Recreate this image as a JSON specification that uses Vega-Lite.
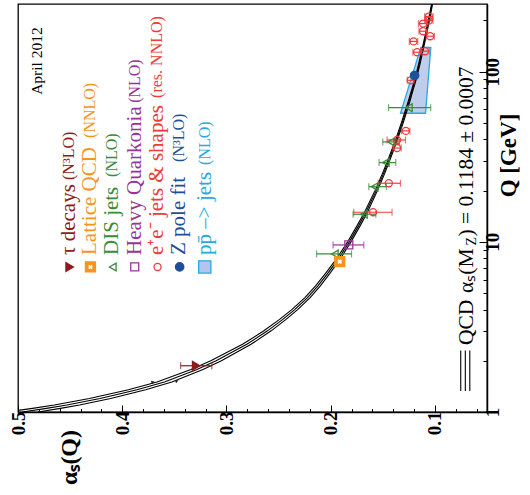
{
  "$schema": "https://vega.github.io/schema/vega-lite/v6.json",
  "width": 469,
  "height": 408,
  "autosize": {"type": "none"},
  "padding": {"left": 18, "top": 4, "right": 43, "bottom": 83},
  "background": "white",
  "view": {"stroke": "black", "strokeWidth": 1.3},
  "config": {"font": "Liberation Serif"},
  "datasets": {
    "qcd": [
      {"q": 1, "c": 0.4958, "u": 0.5108, "l": 0.4808},
      {"q": 1.05, "c": 0.4727, "u": 0.486, "l": 0.4593},
      {"q": 1.1, "c": 0.4531, "u": 0.4652, "l": 0.441},
      {"q": 1.2, "c": 0.4213, "u": 0.4315, "l": 0.4111},
      {"q": 1.35, "c": 0.3858, "u": 0.3941, "l": 0.3775},
      {"q": 1.5, "c": 0.3595, "u": 0.3666, "l": 0.3524},
      {"q": 1.777, "c": 0.3283, "u": 0.3341, "l": 0.3225},
      {"q": 2, "c": 0.3099, "u": 0.315, "l": 0.3048},
      {"q": 2.5, "c": 0.2805, "u": 0.2846, "l": 0.2764},
      {"q": 3, "c": 0.2606, "u": 0.2641, "l": 0.2571},
      {"q": 3.5, "c": 0.2459, "u": 0.249, "l": 0.2428},
      {"q": 4, "c": 0.2345, "u": 0.2373, "l": 0.2317},
      {"q": 4.7, "c": 0.2222, "u": 0.2247, "l": 0.2197},
      {"q": 5.5, "c": 0.2124, "u": 0.2147, "l": 0.2101},
      {"q": 6.5, "c": 0.203, "u": 0.2051, "l": 0.2009},
      {"q": 8, "c": 0.1923, "u": 0.1941, "l": 0.1905},
      {"q": 10, "c": 0.1821, "u": 0.1837, "l": 0.1805},
      {"q": 12.5, "c": 0.173, "u": 0.1745, "l": 0.1715},
      {"q": 15, "c": 0.166, "u": 0.1674, "l": 0.1646},
      {"q": 20, "c": 0.1563, "u": 0.1575, "l": 0.1551},
      {"q": 25, "c": 0.1495, "u": 0.1506, "l": 0.1484},
      {"q": 30, "c": 0.1443, "u": 0.1453, "l": 0.1433},
      {"q": 40, "c": 0.1367, "u": 0.1376, "l": 0.1358},
      {"q": 50, "c": 0.1313, "u": 0.1322, "l": 0.1304},
      {"q": 65, "c": 0.1254, "u": 0.1262, "l": 0.1246},
      {"q": 80, "c": 0.1211, "u": 0.1218, "l": 0.1204},
      {"q": 91.19, "c": 0.1184, "u": 0.1191, "l": 0.1177},
      {"q": 110, "c": 0.1151, "u": 0.1158, "l": 0.1144},
      {"q": 130, "c": 0.1124, "u": 0.113, "l": 0.1118},
      {"q": 160, "c": 0.1091, "u": 0.1097, "l": 0.1085},
      {"q": 200, "c": 0.1058, "u": 0.1064, "l": 0.1052},
      {"q": 250, "c": 0.1027, "u": 0.1032, "l": 0.1022}
    ],
    "pts": [
      {"series": "tau", "q": 1.87, "a": 0.329, "lo": 0.314, "hi": 0.344},
      {"series": "dis", "q": 8.49, "a": 0.196, "lo": 0.18, "hi": 0.2135},
      {"series": "dis", "q": 14.53, "a": 0.1682, "lo": 0.1567, "hi": 0.1785},
      {"series": "dis", "q": 21.11, "a": 0.1577, "lo": 0.1465, "hi": 0.1634},
      {"series": "dis", "q": 29.22, "a": 0.1471, "lo": 0.1375, "hi": 0.1536},
      {"series": "dis", "q": 38.67, "a": 0.142, "lo": 0.134, "hi": 0.15},
      {"series": "dis", "q": 61.5, "a": 0.125, "lo": 0.104, "hi": 0.1445},
      {"series": "hq", "q": 9.59, "a": 0.1826, "lo": 0.1682, "hi": 0.1977},
      {"series": "lat", "q": 7.65, "a": 0.1913, "lo": 0.1885, "hi": 0.1941},
      {"series": "ee", "q": 14.93, "a": 0.1593, "lo": 0.1411, "hi": 0.1778},
      {"series": "ee", "q": 22.11, "a": 0.1442, "lo": 0.133, "hi": 0.1545},
      {"series": "ee", "q": 35.6, "a": 0.1363, "lo": 0.1323, "hi": 0.1403},
      {"series": "ee", "q": 39.7, "a": 0.1363, "lo": 0.1282, "hi": 0.1459},
      {"series": "ee", "q": 44.9, "a": 0.1279, "lo": 0.124, "hi": 0.132},
      {"series": "ee", "q": 89, "a": 0.1232, "lo": 0.12, "hi": 0.1265},
      {"series": "ee", "q": 130.2, "a": 0.1171, "lo": 0.1131, "hi": 0.1211},
      {"series": "ee", "q": 132, "a": 0.1095, "lo": 0.1055, "hi": 0.1135},
      {"series": "ee", "q": 150.7, "a": 0.1205, "lo": 0.1165, "hi": 0.1245},
      {"series": "ee", "q": 161.7, "a": 0.1045, "lo": 0.1005, "hi": 0.1085},
      {"series": "ee", "q": 173, "a": 0.1113, "lo": 0.1073, "hi": 0.1153},
      {"series": "ee", "q": 191.8, "a": 0.1113, "lo": 0.1068, "hi": 0.1158},
      {"series": "ee", "q": 199.7, "a": 0.1058, "lo": 0.1018, "hi": 0.1098},
      {"series": "ee", "q": 210.9, "a": 0.1058, "lo": 0.1018, "hi": 0.1098},
      {"series": "z", "q": 95, "a": 0.1195, "lo": 0.1185, "hi": 0.1205}
    ],
    "ppband": [
      {"q": 57, "a1": 0.133, "a2": 0.109},
      {"q": 139, "a1": 0.1135, "a2": 0.1039}
    ],
    "arrows": [
      {"a": 0.3705, "q": 1.5},
      {"a": 0.3475, "q": 1.52}
    ],
    "legsym": [
      {"series": "tau", "a": 0.4504, "q": 7.12},
      {"series": "lat", "a": 0.4305, "q": 7.12},
      {"series": "dis", "a": 0.4091, "q": 7.12},
      {"series": "hq", "a": 0.388, "q": 7.12},
      {"series": "ee", "a": 0.3661, "q": 7.12},
      {"series": "z", "a": 0.3449, "q": 7.12},
      {"series": "pp", "a": 0.3208, "q": 7.12}
    ],
    "legmain": [
      {"series": "tau", "label": "τ decays", "a": 0.4513, "q": 8.375},
      {"series": "lat", "label": "Lattice QCD", "a": 0.4312, "q": 8.375},
      {"series": "dis", "label": "DIS jets", "a": 0.4101, "q": 8.375},
      {"series": "hq", "label": "Heavy Quarkonia", "a": 0.3875, "q": 8.375},
      {"series": "ee", "label": "e⁺e⁻ jets & shapes", "a": 0.3669, "q": 8.375},
      {"series": "z", "label": "Z pole fit", "a": 0.3453, "q": 8.375},
      {"series": "pp", "label": "pp̄ –> jets", "a": 0.3208, "q": 8.375}
    ],
    "legsuf": [
      {"series": "tau", "label": "(N³LO)", "a": 0.4513, "q": 23.11},
      {"series": "lat", "label": "(NNLO)", "a": 0.4312, "q": 40.81},
      {"series": "dis", "label": "(NLO)", "a": 0.4101, "q": 24.07},
      {"series": "hq", "label": "(NLO)", "a": 0.3875, "q": 65.6},
      {"series": "ee", "label": "(res. NNLO)", "a": 0.3669, "q": 70.16},
      {"series": "z", "label": "(N³LO)", "a": 0.3453, "q": 29.49},
      {"series": "pp", "label": "(NLO)", "a": 0.3208, "q": 28.32}
    ],
    "annbig": [
      {"label": "QCD", "a": 0.0695, "q": 2.476},
      {"label": "αₛ(M", "a": 0.0695, "q": 5.01},
      {"label": ") = 0.1184 ± 0.0007", "a": 0.0695, "q": 10.76}
    ],
    "annsmall": [
      {"label": "Z", "a": 0.0648, "q": 9.52}
    ],
    "date": [
      {"label": "April 2012", "a": 0.4821, "q": 73.1}
    ],
    "qleg": [
      {"a": 0.0752, "q1": 1.33, "q2": 2.3},
      {"a": 0.0708, "q1": 1.33, "q2": 2.3},
      {"a": 0.0665, "q1": 1.33, "q2": 2.3}
    ]
  },
  "layer": [
    {
      "data": {"name": "ppband"},
      "mark": {"type": "area", "orient": "horizontal", "fill": "#b4c4ea", "fillOpacity": 0.85, "stroke": "#27a9e1", "strokeWidth": 1.3},
      "encoding": {
        "y": {"field": "q", "type": "quantitative", "scale": {"type": "log", "domain": [1, 250], "nice": false}, "axis": null},
        "x": {"field": "a1", "type": "quantitative", "scale": {"domain": [0.05, 0.5], "reverse": true, "nice": false, "zero": false}, "axis": null},
        "x2": {"field": "a2"}
      }
    },
    {
      "data": {"name": "qcd"},
      "transform": [{"fold": ["c", "u", "l"], "as": ["band", "a"]}],
      "mark": {"type": "line", "color": "black", "strokeWidth": 1.1, "clip": true},
      "encoding": {
        "x": {"field": "a", "type": "quantitative", "scale": {"domain": [0.05, 0.5], "reverse": true, "nice": false, "zero": false},
          "axis": {"orient": "bottom", "values": [0.1, 0.2, 0.3, 0.4, 0.5], "format": ".1f", "labelAngle": 270, "labelAlign": "right", "labelBaseline": "middle", "labelFont": "Liberation Serif", "labelFontSize": 19, "labelFontWeight": "bold", "labelColor": "black", "labelPadding": 6, "labelFlush": false, "labelOverlap": false, "labelBound": false, "tickSize": -7, "tickColor": "black", "tickWidth": 1, "domainColor": "black", "domainWidth": 1.5, "grid": false, "title": "αₛ(Q)", "titleFont": "Liberation Serif", "titleFontSize": 24, "titleFontWeight": "bold", "titleColor": "black", "titleAngle": 270, "titleAlign": "center", "titleBaseline": "middle", "titleX": 51, "titleY": 45}},
        "y": {"field": "q", "type": "quantitative", "scale": {"type": "log", "domain": [1, 250], "nice": false},
          "axis": {"orient": "right", "values": [1, 10, 100], "format": "d", "labelAngle": 270, "labelAlign": "center", "labelBaseline": "top", "labelFont": "Liberation Serif", "labelFontSize": 19, "labelFontWeight": "bold", "labelColor": "black", "labelPadding": 4, "labelFlush": false, "labelOverlap": false, "labelBound": false, "tickSize": -8, "tickColor": "black", "tickWidth": 1, "domainColor": "black", "domainWidth": 1.5, "grid": false, "title": "Q [GeV]", "titleFont": "Liberation Serif", "titleFontSize": 23, "titleFontWeight": "bold", "titleColor": "black", "titleAngle": 270, "titleAlign": "center", "titleBaseline": "middle", "titleX": 21, "titleY": 151}},
        "detail": {"field": "band"},
        "order": {"field": "q", "type": "quantitative"}
      }
    },
    {
      "data": {"name": "arrows"},
      "mark": {"type": "point", "shape": "triangle-right", "filled": true, "color": "#222222", "opacity": 1, "size": 14, "angle": 340},
      "encoding": {
        "x": {"field": "a", "type": "quantitative", "axis": null},
        "y": {"field": "q", "type": "quantitative", "axis": null}
      }
    },
    {
      "data": {"name": "pts"},
      "mark": {"type": "rule", "strokeWidth": 1.2},
      "encoding": {
        "x": {"field": "lo", "type": "quantitative", "scale": {"domain": [0.05, 0.5], "reverse": true, "nice": false, "zero": false},
          "axis": {"orient": "bottom", "values": [0.06, 0.08, 0.12, 0.14, 0.16, 0.18, 0.22, 0.24, 0.26, 0.28, 0.32, 0.34, 0.36, 0.38, 0.42, 0.44, 0.46, 0.48], "labels": false, "domain": false, "tickSize": -3.5, "tickColor": "black", "tickWidth": 1, "grid": false, "title": null}},
        "x2": {"field": "hi"},
        "y": {"field": "q", "type": "quantitative", "scale": {"type": "log", "domain": [1, 250], "nice": false},
          "axis": {"orient": "right", "values": [2, 3, 4, 5, 6, 7, 8, 9, 20, 30, 40, 50, 60, 70, 80, 90, 200], "labels": false, "domain": false, "tickSize": -4, "tickColor": "black", "tickWidth": 1, "grid": false, "title": null}},
        "color": {"field": "series", "type": "nominal", "legend": null, "scale": {"domain": ["tau", "lat", "dis", "hq", "ee", "z", "pp"], "range": ["#8e1b1b", "#f7941d", "#3a8a3a", "#993399", "#ef3a3a", "#1f4e9a", "#27a9e1"]}}
      }
    },
    {
      "data": {"name": "pts"},
      "transform": [{"fold": ["lo", "hi"], "as": ["end", "v"]}],
      "mark": {"type": "tick", "orient": "vertical", "size": 7, "thickness": 1.2},
      "encoding": {
        "x": {"field": "v", "type": "quantitative", "axis": null},
        "y": {"field": "q", "type": "quantitative", "axis": null},
        "color": {"field": "series", "type": "nominal", "legend": null, "scale": {"domain": ["tau", "lat", "dis", "hq", "ee", "z", "pp"], "range": ["#8e1b1b", "#f7941d", "#3a8a3a", "#993399", "#ef3a3a", "#1f4e9a", "#27a9e1"]}}
      }
    },
    {
      "data": {"name": "pts"},
      "mark": {"type": "point", "opacity": 1, "strokeWidth": 1.3},
      "encoding": {
        "x": {"field": "a", "type": "quantitative", "axis": null},
        "y": {"field": "q", "type": "quantitative", "axis": null},
        "shape": {"field": "series", "type": "nominal", "legend": null, "scale": {"domain": ["tau", "lat", "dis", "hq", "ee", "z", "pp"], "range": ["triangle-right", "square", "triangle-left", "square", "circle", "circle", "square"]}},
        "stroke": {"field": "series", "type": "nominal", "legend": null, "scale": {"domain": ["tau", "lat", "dis", "hq", "ee", "z", "pp"], "range": ["#8e1b1b", "#f7941d", "#3a8a3a", "#993399", "#ef3a3a", "#1f4e9a", "#27a9e1"]}},
        "fill": {"field": "series", "type": "nominal", "legend": null, "scale": {"domain": ["tau", "lat", "dis", "hq", "ee", "z", "pp"], "range": ["#8e1b1b", "#f7941d", "transparent", "transparent", "transparent", "#1f4e9a", "#b4c4ea"]}},
        "size": {"field": "series", "type": "nominal", "legend": null, "scale": {"type": "ordinal", "domain": ["tau", "lat", "dis", "hq", "ee", "z", "pp"], "range": [75, 100, 60, 64, 50, 70, 150]}}
      }
    },
    {
      "data": {"name": "legsym"},
      "mark": {"type": "point", "opacity": 1, "strokeWidth": 1.3},
      "encoding": {
        "x": {"field": "a", "type": "quantitative", "axis": null},
        "y": {"field": "q", "type": "quantitative", "axis": null},
        "shape": {"field": "series", "type": "nominal", "legend": null, "scale": {"domain": ["tau", "lat", "dis", "hq", "ee", "z", "pp"], "range": ["triangle-right", "square", "triangle-left", "square", "circle", "circle", "square"]}},
        "stroke": {"field": "series", "type": "nominal", "legend": null, "scale": {"domain": ["tau", "lat", "dis", "hq", "ee", "z", "pp"], "range": ["#8e1b1b", "#f7941d", "#3a8a3a", "#993399", "#ef3a3a", "#1f4e9a", "#27a9e1"]}},
        "fill": {"field": "series", "type": "nominal", "legend": null, "scale": {"domain": ["tau", "lat", "dis", "hq", "ee", "z", "pp"], "range": ["#8e1b1b", "#f7941d", "transparent", "transparent", "transparent", "#1f4e9a", "#b4c4ea"]}},
        "size": {"field": "series", "type": "nominal", "legend": null, "scale": {"type": "ordinal", "domain": ["tau", "lat", "dis", "hq", "ee", "z", "pp"], "range": [75, 100, 60, 64, 50, 70, 150]}}
      }
    },
    {
      "data": {"name": "pts"},
      "transform": [{"filter": "datum.series == 'lat'"}],
      "mark": {"type": "point", "shape": "cross", "angle": 45, "filled": true, "fill": "white", "opacity": 1, "size": 22, "strokeWidth": 0},
      "encoding": {
        "x": {"field": "a", "type": "quantitative", "axis": null},
        "y": {"field": "q", "type": "quantitative", "axis": null}
      }
    },
    {
      "data": {"name": "legsym"},
      "transform": [{"filter": "datum.series == 'lat'"}],
      "mark": {"type": "point", "shape": "cross", "angle": 45, "filled": true, "fill": "white", "opacity": 1, "size": 22, "strokeWidth": 0},
      "encoding": {
        "x": {"field": "a", "type": "quantitative", "axis": null},
        "y": {"field": "q", "type": "quantitative", "axis": null}
      }
    },
    {
      "data": {"name": "legmain"},
      "mark": {"type": "text", "angle": 270, "align": "left", "baseline": "middle", "font": "Liberation Serif", "fontSize": 21},
      "encoding": {
        "x": {"field": "a", "type": "quantitative", "axis": null},
        "y": {"field": "q", "type": "quantitative", "axis": null},
        "text": {"field": "label"},
        "color": {"field": "series", "type": "nominal", "legend": null, "scale": {"domain": ["tau", "lat", "dis", "hq", "ee", "z", "pp"], "range": ["#8e1b1b", "#f7941d", "#3a8a3a", "#993399", "#ef3a3a", "#1f4e9a", "#27a9e1"]}}
      }
    },
    {
      "data": {"name": "legsuf"},
      "mark": {"type": "text", "angle": 270, "align": "left", "baseline": "middle", "font": "Liberation Serif", "fontSize": 16},
      "encoding": {
        "x": {"field": "a", "type": "quantitative", "axis": null},
        "y": {"field": "q", "type": "quantitative", "axis": null},
        "text": {"field": "label"},
        "color": {"field": "series", "type": "nominal", "legend": null, "scale": {"domain": ["tau", "lat", "dis", "hq", "ee", "z", "pp"], "range": ["#8e1b1b", "#f7941d", "#3a8a3a", "#993399", "#ef3a3a", "#1f4e9a", "#27a9e1"]}}
      }
    },
    {
      "data": {"name": "annbig"},
      "mark": {"type": "text", "angle": 270, "align": "left", "baseline": "middle", "font": "Liberation Serif", "fontSize": 21.5, "color": "black"},
      "encoding": {
        "x": {"field": "a", "type": "quantitative", "axis": null},
        "y": {"field": "q", "type": "quantitative", "axis": null},
        "text": {"field": "label"}
      }
    },
    {
      "data": {"name": "annsmall"},
      "mark": {"type": "text", "angle": 270, "align": "left", "baseline": "middle", "font": "Liberation Serif", "fontSize": 14, "color": "black"},
      "encoding": {
        "x": {"field": "a", "type": "quantitative", "axis": null},
        "y": {"field": "q", "type": "quantitative", "axis": null},
        "text": {"field": "label"}
      }
    },
    {
      "data": {"name": "date"},
      "mark": {"type": "text", "angle": 270, "align": "left", "baseline": "middle", "font": "Liberation Serif", "fontSize": 15.5, "color": "black"},
      "encoding": {
        "x": {"field": "a", "type": "quantitative", "axis": null},
        "y": {"field": "q", "type": "quantitative", "axis": null},
        "text": {"field": "label"}
      }
    },
    {
      "data": {"name": "qleg"},
      "mark": {"type": "rule", "color": "black", "strokeWidth": 1.1},
      "encoding": {
        "x": {"field": "a", "type": "quantitative", "axis": null},
        "y": {"field": "q1", "type": "quantitative", "axis": null},
        "y2": {"field": "q2"}
      }
    }
  ],
  "resolve": {"axis": {"x": "independent", "y": "independent"}}
}
